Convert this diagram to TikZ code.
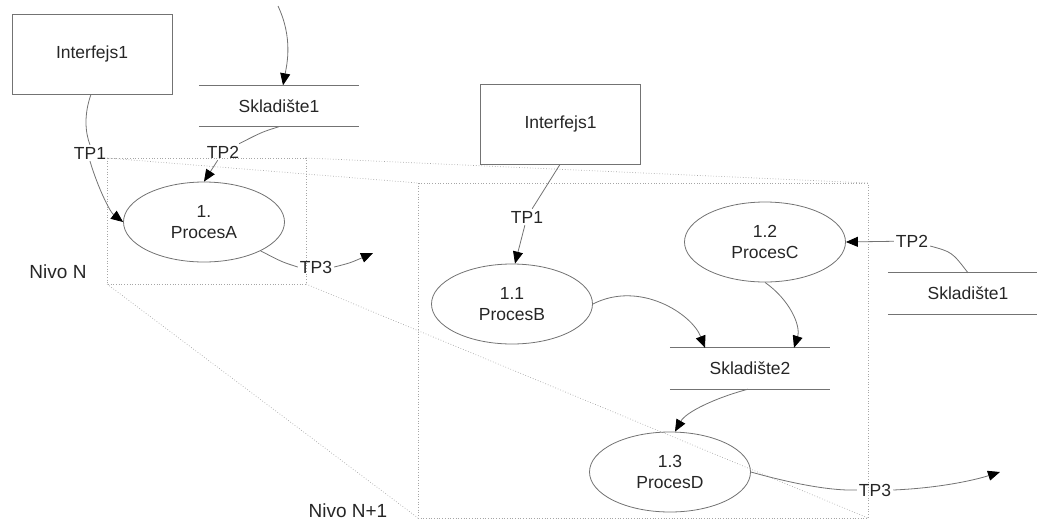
\documentclass[tikz,border=0pt]{standalone}
\usepackage{fontspec}
\setmainfont{Liberation Sans}
\usetikzlibrary{arrows.meta,shapes.geometric}

\begin{document}
\begin{tikzpicture}[x=1pt,y=-1pt,
  font=\fontsize{17.5}{21}\selectfont,
  text=black!85,
  shapeline/.style={draw=black!55, line width=0.8pt},
  entity/.style={shapeline, rectangle, minimum width=160pt, minimum height=80pt, inner sep=0pt},
  process/.style={shapeline, ellipse, minimum width=161pt, minimum height=80pt, inner sep=0pt, align=center},
  store/.style={minimum width=160pt, minimum height=41pt, inner sep=0pt},
  flowlabel/.style={inner sep=2pt},
  levellabel/.style={font=\fontsize{19}{22}\selectfont, inner sep=0pt},
  flow/.style={draw=black!55, line width=0.8pt},
  tipflow/.style={flow, -{Triangle[length=12pt,width=10pt,color=black]}},
  zoomline/.style={draw=black!35, line width=0.7pt, dotted}
]
\useasboundingbox (0,0) rectangle (1037,520);

% --- level frames and the projection between them ---
\coordinate (sNW) at (107,158);
\coordinate (sNE) at (306,158);
\coordinate (sSW) at (107,284);
\coordinate (sSE) at (306,284);
\coordinate (bNW) at (418,183);
\coordinate (bNE) at (868,183);
\coordinate (bSW) at (418,518);
\coordinate (bSE) at (868,518);
\draw[zoomline] (sNW) rectangle (sSE);
\draw[zoomline] (bNW) rectangle (bSE);
\draw[zoomline] (sNW) -- (bNW);
\draw[zoomline] (sNE) -- (bNE);
\draw[zoomline] (sSW) -- (bSW);
\draw[zoomline] (sSE) -- (bSE);

% --- level N ---
\node[entity] (i1l) at (92,54) {Interfejs1};
\node[store] (s1l) at (279,106) {Skladište1};
\node[process] (pA) at (204,222) {1.\\ProcesA};
\node[levellabel] (nivoN) at (58,272) {Nivo N};

\node[flowlabel] (tp1a) at (90,153) {TP1};
\node[flowlabel] (tp2a) at (223,152) {TP2};
\node[flowlabel] (tp3a) at (316,267) {TP3};
\coordinate (inS1) at (278,6);
\coordinate (outA) at (373,253);

\draw[tipflow] (inS1) .. controls (293,38) and (287,64) .. ([xshift=4pt]s1l.north);
\draw[flow] ([xshift=-1pt]i1l.south) .. controls (84,114) and (85,132) .. (tp1a.north);
\draw[tipflow] (tp1a.south) .. controls (98,188) and (110,212) .. (pA.west);
\draw[flow] (s1l.south) .. controls (262,132) .. (tp2a);
\draw[tipflow] (tp2a) -- (pA.north);
\draw[flow] (pA.-27) .. controls (282,262) .. (tp3a.west);
\draw[tipflow] (tp3a.east) .. controls (350,263) .. (outA);

% --- level N+1 ---
\node[entity] (i1r) at (560.5,124) {Interfejs1};
\node[process] (pB) at (512,304) {1.1\\ProcesB};
\node[process] (pC) at (765,242) {1.2\\ProcesC};
\node[store] (s1r) at (968,293.5) {Skladište1};
\node[store] (s2) at (750,368.5) {Skladište2};
\node[process] (pD) at (670,472) {1.3\\ProcesD};
\node[levellabel] (nivoN1) at (348,511) {Nivo N+1};

% data stores: open rectangles, top and bottom edges only
\foreach \st in {s1l,s1r,s2}
  \draw[shapeline] (\st.north west) -- (\st.north east)
                   (\st.south west) -- (\st.south east);

\node[flowlabel] (tp1b) at (527,217) {TP1};
\node[flowlabel] (tp2b) at (912,241) {TP2};
\node[flowlabel] (tp3b) at (875,490) {TP3};
\coordinate (outD) at (1000,472);

\draw[flow] ([xshift=-0.5pt]i1r.south) -- (tp1b);
\draw[tipflow] (tp1b) -- ([xshift=3pt]pB.north);
\draw[flow] (s1r.north) .. controls (952,252) .. (tp2b);
\draw[tipflow] (tp2b) -- (pC.east);
\draw[tipflow] (pB.east) .. controls (640,280) and (692,314) .. ([xshift=-45pt]s2.north);
\draw[tipflow] (pC.south) .. controls (790,300) and (801,326) .. ([xshift=44pt]s2.north);
\draw[tipflow] ([xshift=-2pt]s2.south) .. controls (715,398) and (686,412) .. ([xshift=5pt]pD.north);
\draw[flow] (pD.east) .. controls (790,483) and (830,491) .. (tp3b.west);
\draw[tipflow] (tp3b.east) .. controls (940,488) and (975,480) .. (outD);
\end{tikzpicture}
\end{document}
